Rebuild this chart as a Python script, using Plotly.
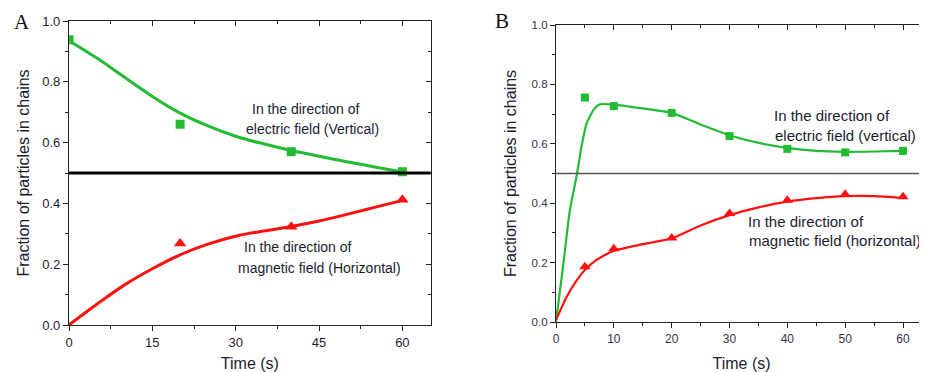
import plotly.graph_objects as go

# ---------------- Data ----------------
# Panel A (measured points)
a_time = [0, 20, 40, 60]
a_electric = [0.938, 0.660, 0.570, 0.504]
a_mag_time = [20, 40, 60]
a_magnetic = [0.268, 0.323, 0.412]
# Panel A (fitted curves)
a_fit_time = [0, 5, 10, 15, 20, 25, 30, 35, 40, 45, 50, 55, 60]
a_fit_electric = [0.935, 0.878, 0.815, 0.752, 0.697, 0.655, 0.621, 0.596, 0.574, 0.555, 0.537, 0.520, 0.503]
a_fit_magnetic = [0.0, 0.068, 0.132, 0.185, 0.231, 0.266, 0.292, 0.309, 0.324, 0.342, 0.364, 0.387, 0.410]

# Panel B (measured points)
b_time = [5, 10, 20, 30, 40, 50, 60]
b_electric = [0.756, 0.727, 0.704, 0.626, 0.583, 0.571, 0.576]
b_magnetic = [0.186, 0.247, 0.283, 0.365, 0.410, 0.430, 0.422]
# Panel B (fitted curves)
b_fit_e_time = [0, 1.3, 2.4, 3.6, 4.4, 5.3, 6.5, 7.6, 10, 15, 20, 25, 30, 35, 40, 45, 50, 55, 60]
b_fit_electric = [0.0, 0.20, 0.377, 0.495, 0.59, 0.669, 0.714, 0.733, 0.732, 0.719, 0.704, 0.665, 0.629, 0.603, 0.586, 0.576, 0.573, 0.574, 0.576]
b_fit_m_time = [0, 1.85, 3.6, 5, 7, 8.8, 10, 15, 20, 25, 30, 35, 40, 45, 50, 55, 60]
b_fit_magnetic = [0.007, 0.085, 0.141, 0.175, 0.209, 0.229, 0.240, 0.262, 0.282, 0.325, 0.360, 0.386, 0.405, 0.417, 0.424, 0.424, 0.418]

threshold = 0.5

a_xticks = [0, 15, 30, 45, 60]
b_xticks = [0, 10, 20, 30, 40, 50, 60]
yticks = [0.0, 0.2, 0.4, 0.6, 0.8, 1.0]
ytick_labels = ["0.0", "0.2", "0.4", "0.6", "0.8", "1.0"]

GREEN = "#22BB33"
RED = "#FF1010"
TXT = "#1c1c30"
FONT = "Liberation Sans, Arial, sans-serif"

# page has an 8px body margin: figure sized to fit the window
OFF = 8
W, H = 927 - OFF, 372 - OFF


def px(x):
    return (x - OFF) / W


def py(y):
    return (372 - y) / H


fig = go.Figure()

# ---- Panel A ----
fig.add_trace(go.Scatter(x=a_fit_time, y=a_fit_electric, mode="lines", line=dict(color=GREEN, width=3, shape="spline", smoothing=1.0),
                         xaxis="x", yaxis="y", showlegend=False, hoverinfo="skip"))
fig.add_trace(go.Scatter(x=a_fit_time, y=a_fit_magnetic, mode="lines", line=dict(color=RED, width=3, shape="spline", smoothing=1.0),
                         xaxis="x", yaxis="y", showlegend=False, hoverinfo="skip"))
fig.add_trace(go.Scatter(x=a_time, y=a_electric, mode="markers", marker=dict(symbol="square", size=9, color=GREEN),
                         xaxis="x", yaxis="y", showlegend=False))
fig.add_trace(go.Scatter(x=a_mag_time, y=a_magnetic, mode="markers", marker=dict(symbol="triangle-up", size=11, color=RED),
                         xaxis="x", yaxis="y", showlegend=False))

# ---- Panel B ----
fig.add_trace(go.Scatter(x=b_fit_e_time, y=b_fit_electric, mode="lines", line=dict(color=GREEN, width=2.2, shape="spline", smoothing=0.6),
                         xaxis="x2", yaxis="y2", showlegend=False, hoverinfo="skip"))
fig.add_trace(go.Scatter(x=b_fit_m_time, y=b_fit_magnetic, mode="lines", line=dict(color=RED, width=2.2, shape="spline", smoothing=0.6),
                         xaxis="x2", yaxis="y2", showlegend=False, hoverinfo="skip"))
fig.add_trace(go.Scatter(x=b_time, y=b_electric, mode="markers", marker=dict(symbol="square", size=8, color=GREEN),
                         xaxis="x2", yaxis="y2", showlegend=False))
fig.add_trace(go.Scatter(x=b_time, y=b_magnetic, mode="markers", marker=dict(symbol="triangle-up", size=10, color=RED),
                         xaxis="x2", yaxis="y2", showlegend=False))

# dummy traces on mirror axes so they render
fig.add_trace(go.Scatter(x=[None], y=[None], xaxis="x3", yaxis="y3", showlegend=False, hoverinfo="skip"))
fig.add_trace(go.Scatter(x=[None], y=[None], xaxis="x4", yaxis="y4", showlegend=False, hoverinfo="skip"))

# threshold lines
fig.add_shape(type="line", xref="x domain", yref="y", x0=0, x1=1, y0=threshold, y1=threshold,
              line=dict(color="black", width=3.2))
fig.add_shape(type="line", xref="x2 domain", yref="y2", x0=0, x1=1, y0=threshold, y1=threshold,
              line=dict(color="#555555", width=1.3))

A_X = [px(69), px(430.7)]
A_Y = [py(325), py(21)]
B_X = [px(556), 1.0]
B_Y = [py(322), py(25)]

axis_common = dict(showline=True, linecolor="#222222", linewidth=1.3, showgrid=False, zeroline=False,
                   ticks="outside", tickcolor="#222222", tickwidth=1.2, automargin=False)

fig.update_layout(
    width=W, height=H,
    margin=dict(l=0, r=0, t=0, b=0),
    paper_bgcolor="white", plot_bgcolor="white",
    font=dict(family=FONT, color=TXT),
    xaxis=dict(**axis_common, domain=A_X, anchor="y", range=[0, 65.1], tickvals=a_xticks, ticklen=5,
               mirror=True, minor=dict(ticks="outside", dtick=7.5, tick0=0, ticklen=3, tickcolor="#222222"),
               tickfont=dict(size=13, color=TXT),
               title=dict(text="Time (s)", font=dict(size=16, color=TXT), standoff=12)),
    yaxis=dict(**axis_common, domain=A_Y, anchor="x", range=[0, 1.0], tickvals=yticks, ticktext=ytick_labels,
               ticklen=5, mirror=True, minor=dict(ticks="outside", dtick=0.1, tick0=0, ticklen=3, tickcolor="#222222"),
               tickfont=dict(size=13, color=TXT),
               title=dict(text="Fraction of particles in chains", font=dict(size=16, color=TXT), standoff=8)),
    xaxis3=dict(overlaying="x", matches="x", side="top", anchor="y", showline=False, showgrid=False, zeroline=False,
                ticks="inside", ticklen=5, tickcolor="#222222", tickwidth=1.2, tickvals=a_xticks, showticklabels=False,
                minor=dict(ticks="inside", dtick=7.5, tick0=0, ticklen=3, tickcolor="#222222")),
    yaxis3=dict(overlaying="y", matches="y", side="right", anchor="x", showline=False, showgrid=False, zeroline=False,
                ticks="inside", ticklen=5, tickcolor="#222222", tickwidth=1.2, tickvals=yticks, showticklabels=False,
                minor=dict(ticks="inside", dtick=0.1, tick0=0, ticklen=3, tickcolor="#222222")),
    xaxis2=dict(**axis_common, domain=B_X, anchor="y2", range=[0, 64.15], tickvals=b_xticks, ticklen=5,
                mirror=True, minor=dict(ticks="outside", dtick=5, tick0=0, ticklen=3, tickcolor="#222222"),
                tickfont=dict(size=12, color="#333344"),
                title=dict(text="Time (s)", font=dict(size=16, color=TXT), standoff=13)),
    yaxis2=dict(**axis_common, domain=B_Y, anchor="x2", range=[0, 1.0], tickvals=yticks, ticktext=ytick_labels,
                ticklen=5, mirror=True, minor=dict(ticks="outside", dtick=0.1, tick0=0, ticklen=3, tickcolor="#222222"),
                tickfont=dict(size=11.5, color="#333344"),
                title=dict(text="Fraction of particles in chains", font=dict(size=16, color=TXT), standoff=10)),
    xaxis4=dict(overlaying="x2", matches="x2", side="top", anchor="y2", showline=False, showgrid=False, zeroline=False,
                ticks="inside", ticklen=5, tickcolor="#222222", tickwidth=1.2, tickvals=b_xticks, showticklabels=False,
                minor=dict(ticks="inside", dtick=5, tick0=0, ticklen=3, tickcolor="#222222")),
    yaxis4=dict(overlaying="y2", matches="y2", side="right", anchor="x2", showline=False, showgrid=False, zeroline=False,
                ticks="inside", ticklen=5, tickcolor="#222222", tickwidth=1.2, tickvals=yticks, showticklabels=False,
                minor=dict(ticks="inside", dtick=0.1, tick0=0, ticklen=3, tickcolor="#222222")),
)

anns = [
    # panel labels
    dict(text="A", x=px(12), y=py(22), xref="paper", yref="paper", xanchor="left", yanchor="middle",
         font=dict(family="Liberation Serif, Times New Roman, serif", size=21, color="#111111")),
    dict(text="B", x=px(493), y=py(21), xref="paper", yref="paper", xanchor="left", yanchor="middle",
         font=dict(family="Liberation Serif, Times New Roman, serif", size=21, color="#111111")),
    # panel A texts
    dict(text="In the direction of", x=42.7, y=0.7105, xref="x", yref="y", font=dict(size=14, color=TXT)),
    dict(text="electric field (Vertical)", x=43.8, y=0.645, xref="x", yref="y", font=dict(size=14, color=TXT)),
    dict(text="In the direction of", x=41.3, y=0.2566, xref="x", yref="y", font=dict(size=14, color=TXT)),
    dict(text="magnetic field (Horizontal)", x=45.0, y=0.1875, xref="x", yref="y", font=dict(size=14, color=TXT)),
    # panel B texts
    dict(text="In the direction of", x=47.8, y=0.6936, xref="x2", yref="y2", font=dict(size=15, color=TXT)),
    dict(text="electric field (vertical)", x=50.1, y=0.6296, xref="x2", yref="y2", font=dict(size=15, color=TXT)),
    dict(text="In the direction of", x=43.2, y=0.340, xref="x2", yref="y2", font=dict(size=15, color=TXT)),
    dict(text="magnetic field (horizontal)", x=48.2, y=0.276, xref="x2", yref="y2", font=dict(size=15, color=TXT)),
]
for a in anns:
    a.setdefault("showarrow", False)
    fig.add_annotation(**a)

fig.write_html("out.html")
